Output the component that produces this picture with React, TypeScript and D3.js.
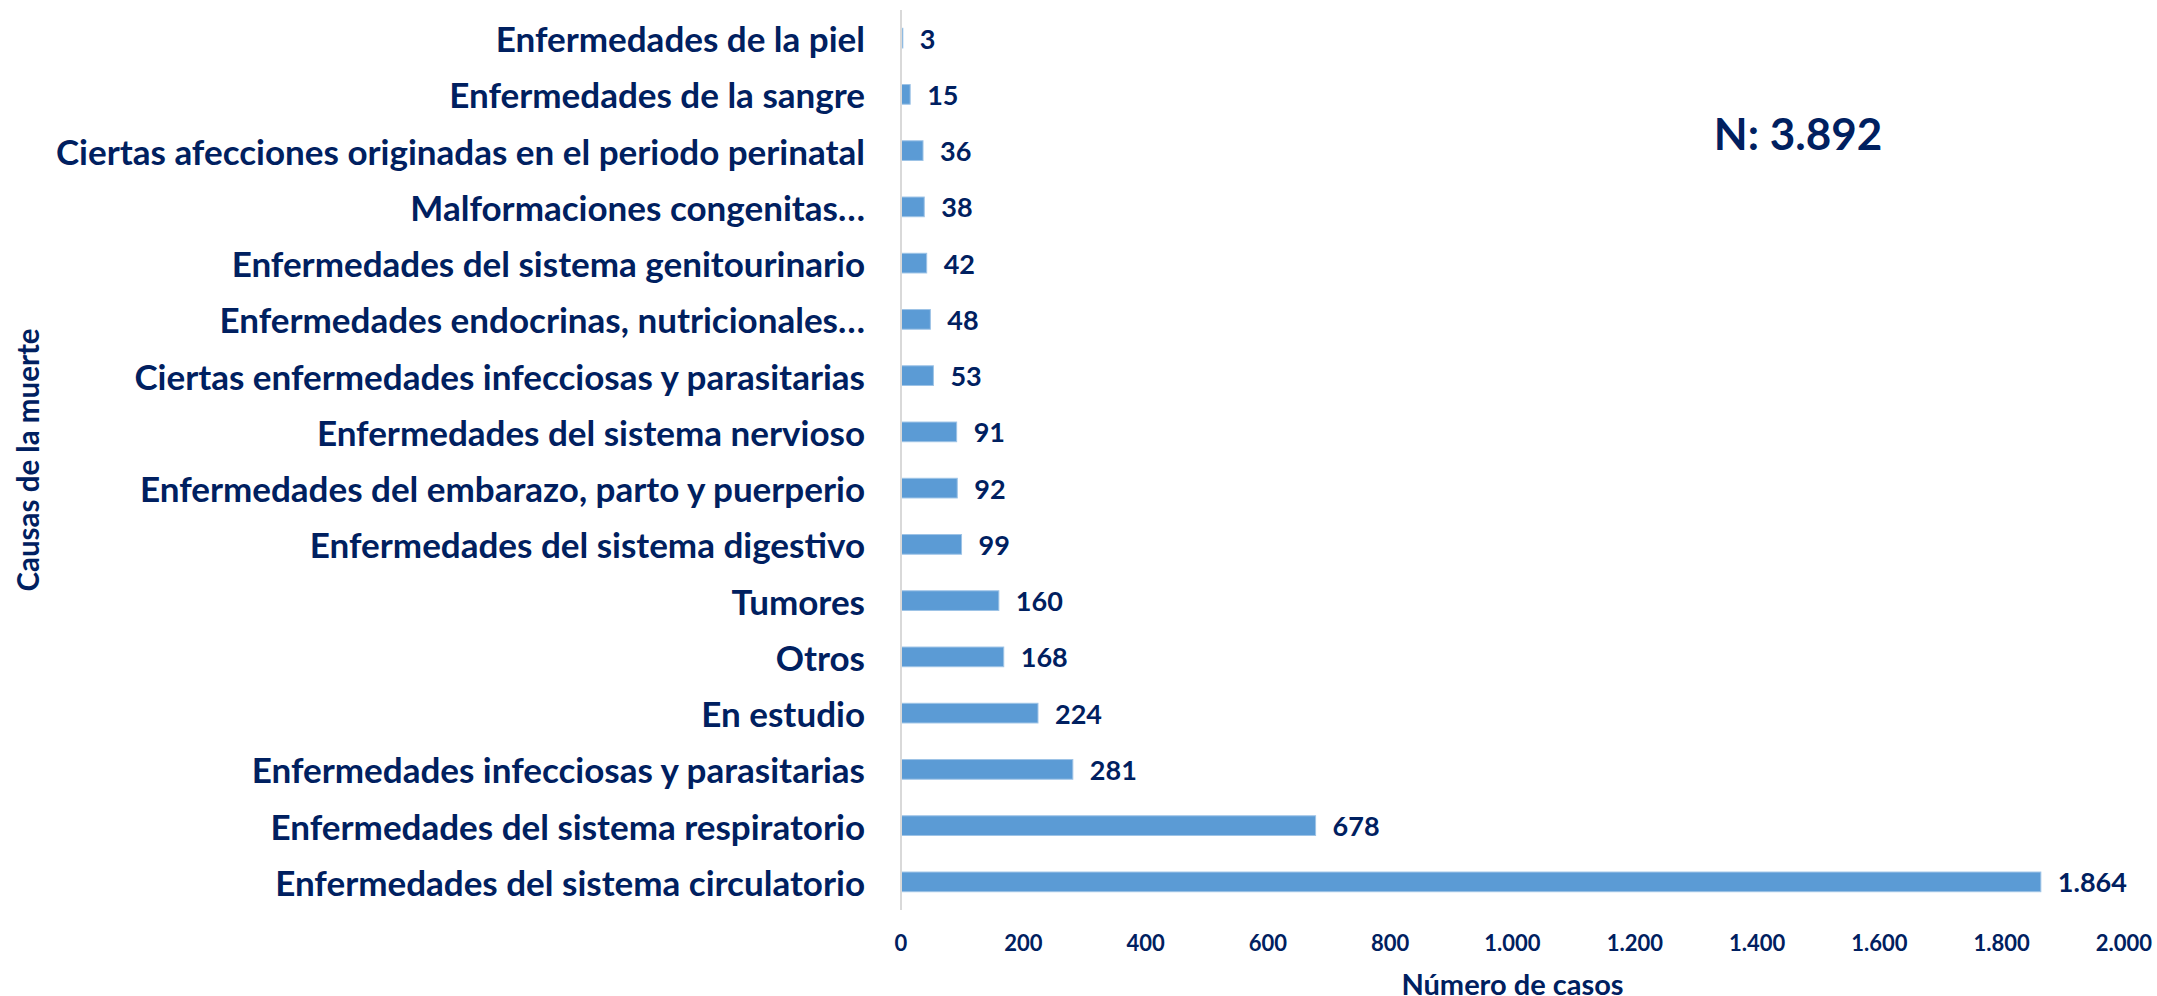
import React from "react";
import * as d3 from "d3";

const categories = [
  "Enfermedades de la piel",
  "Enfermedades de la sangre",
  "Ciertas afecciones originadas en el periodo perinatal",
  "Malformaciones congenitas…",
  "Enfermedades del sistema genitourinario",
  "Enfermedades endocrinas, nutricionales…",
  "Ciertas enfermedades infecciosas y parasitarias",
  "Enfermedades del sistema nervioso",
  "Enfermedades del embarazo, parto y puerperio",
  "Enfermedades del sistema digestivo",
  "Tumores",
  "Otros",
  "En estudio",
  "Enfermedades infecciosas y parasitarias",
  "Enfermedades del sistema respiratorio",
  "Enfermedades del sistema circulatorio",
];
const values = [3, 15, 36, 38, 42, 48, 53, 91, 92, 99, 160, 168, 224, 281, 678, 1864];
const xTicks = [0, 200, 400, 600, 800, 1000, 1200, 1400, 1600, 1800, 2000];
const totalLabel = "N: 3.892";
const xTitle = "Número de casos";
const yTitle = "Causas de la muerte";

const W = 2157;
const H = 996;
const NAVY = "#002060";
const BAR = "#5B9BD5";
const FONT = "Lato, 'Open Sans', sans-serif";

const locale = d3.formatLocale({ decimal: ",", thousands: ".", grouping: [3], currency: ["", ""] });
const fmt = locale.format(",d");

export default function App() {
  const x = d3.scaleLinear().domain([0, 2000]).range([901, 2124]);
  const y = d3.scaleBand<string>().domain(categories).range([10, 910]).paddingInner(0.65).paddingOuter(0.325);
  const bw = y.bandwidth();
  return (
    <svg width={W} height={H} style={{ position: "absolute", left: 0, top: 0, background: "#fff" }} fontFamily={FONT}>
      <rect x={0} y={0} width={W} height={H} fill="#fff" />
      {categories.map((c, i) => {
        const yc = (y(c) as number) + bw / 2;
        return (
          <g key={c}>
            <text x={865} y={yc} textAnchor="end" dominantBaseline="central" fontSize={35} fontWeight={700} fill={NAVY}>
              {c}
            </text>
            <rect x={x(0)} y={y(c)} width={x(values[i]) - x(0)} height={bw} fill={BAR} stroke="#9DC3E6" strokeWidth={1} />
            <text x={x(values[i]) + 17} y={yc} dominantBaseline="central" fontSize={27} fontWeight={700} fill={NAVY}>
              {fmt(values[i])}
            </text>
          </g>
        );
      })}
      <line x1={x(0)} x2={x(0)} y1={10} y2={910} stroke="#D9D9D9" strokeWidth={2} />
      {xTicks.map((t) => (
        <text key={t} x={x(t)} y={942} textAnchor="middle" dominantBaseline="central" fontSize={22} fontWeight={700} fill={NAVY}>
          {fmt(t)}
        </text>
      ))}
      <text x={(x(0) + x(2000)) / 2} y={983} textAnchor="middle" dominantBaseline="central" fontSize={29} fontWeight={700} fill={NAVY}>
        {xTitle}
      </text>
      <text
        transform={`translate(27.5, 460) rotate(-90)`}
        textAnchor="middle"
        dominantBaseline="central"
        fontSize={29.5}
        fontWeight={700}
        fill={NAVY}
      >
        {yTitle}
      </text>
      <text x={1798} y={133} textAnchor="middle" dominantBaseline="central" fontSize={44} fontWeight={700} fill={NAVY}>
        {totalLabel}
      </text>
    </svg>
  );
}
